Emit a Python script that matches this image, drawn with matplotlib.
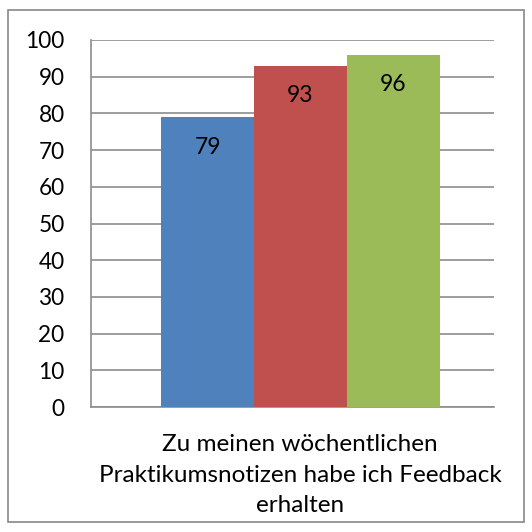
import matplotlib.pyplot as plt
from matplotlib.patches import Rectangle

values = [79, 93, 96]
colors = ["#4F81BD", "#C0504D", "#9BBB59"]
category = "Zu meinen wöchentlichen\nPraktikumsnotizen habe ich Feedback\nerhalten"
yticks = list(range(0, 101, 10))

plt.rcParams['font.family'] = ['Lato', 'DejaVu Sans']

W = H = 532
fig = plt.figure(figsize=(W / 100, H / 100), dpi=100)
ax = fig.add_axes([91 / W, 1 - 407 / H, (494 - 91) / W, (407 - 40) / H])

# outer chart border
fig.patches.append(Rectangle((8 / W, 1 - 522 / H), (524 - 8) / W, (522 - 10) / H,
                             transform=fig.transFigure, fill=False,
                             edgecolor="#888888", linewidth=1.2))

bar_w = (254 - 161) / (494 - 91)
xs = [(161 - 91) / (494 - 91) + bar_w * (i + 0.5) for i in range(3)]
ax.bar(xs, values, width=bar_w, color=colors, zorder=3)
for x, v in zip(xs, values):
    ax.annotate(str(v), (x, v), xytext=(0, -30), textcoords="offset pixels",
                ha="center", va="center", fontsize=16.5, zorder=4)

ax.set_xlim(0, 1)
ax.set_ylim(0, 100)
ax.set_yticks(yticks)
ax.yaxis.grid(True, color="#8c8c8c", linewidth=1.2, zorder=0)
ax.set_xticks([])
ax.tick_params(axis="y", length=0, pad=19, labelsize=16.3)
for s in ["top", "right"]:
    ax.spines[s].set_visible(False)
for s in ["left", "bottom"]:
    ax.spines[s].set_color("#8c8c8c")
    ax.spines[s].set_linewidth(1.2)

fig.text(300 / W, 1 - 475 / H, category, ha="center", va="center",
         fontsize=17.5, linespacing=1.55)

fig.savefig("out.png", dpi=100)
